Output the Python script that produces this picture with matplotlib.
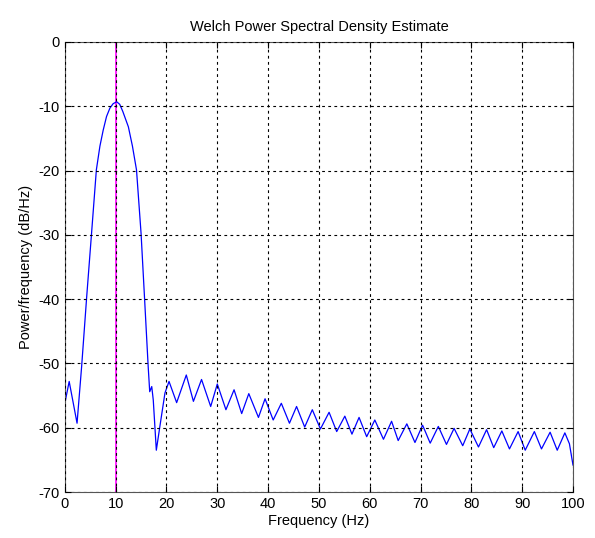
import matplotlib.pyplot as plt

plt.rcParams['font.family'] = ['Liberation Sans', 'DejaVu Sans']
plt.rcParams['axes.unicode_minus'] = False

# PSD curve (Hz, dB/Hz)
freq = [0, 0.85, 2.4, 3.3, 4.3, 5.25, 6.2, 6.9, 7.55, 8.2, 8.86, 9.5, 10.2, 10.8, 11.4, 12.5,
        13.3, 14.1, 15.0, 15.7, 16.4, 16.7, 17.1, 17.4, 18.0, 18.7, 19.7,
        20.5, 22.0, 23.9, 25.3, 26.9, 28.7, 30.0, 31.7, 33.3, 34.8,
        36.2, 38.1, 39.4, 41.0, 42.6, 44.2, 45.6, 47.2, 48.7, 50.3,
        52.0, 53.5, 55.1, 56.5, 57.9, 59.4, 61.0, 62.7, 64.3, 65.6,
        67.3, 68.9, 70.4, 71.9, 73.5, 75.1, 76.6, 78.3, 79.7, 81.4,
        83.0, 84.4, 86.0, 87.5, 89.2, 90.6, 92.4, 93.8, 95.5, 96.9,
        98.4, 99.3, 100]
psd_db = [-56.2, -52.8, -59.3, -50.5, -39.6, -29.8, -19.9, -16.2, -13.7, -11.6, -10.3, -9.6, -9.3, -9.7, -10.8, -13.2,
          -16.2, -19.9, -29.8, -40.1, -50.5, -54.4, -53.6, -55.7, -63.5, -59.8, -54.6,
          -52.8, -56.1, -51.8, -55.9, -52.5, -56.7, -53.2, -57.2, -54.1, -57.8,
          -54.7, -58.4, -55.5, -58.8, -56.2, -59.3, -56.7, -59.9, -57.2, -60.2,
          -57.6, -60.6, -58.2, -61.0, -58.4, -61.4, -58.8, -61.8, -59.0, -62.0,
          -59.4, -62.3, -59.6, -62.4, -59.8, -62.6, -60.1, -62.8, -60.2, -63.0,
          -60.3, -63.1, -60.5, -63.3, -60.6, -63.5, -60.6, -63.3, -60.7, -63.5,
          -60.8, -62.5, -65.8]
marker_freq = 10

fig = plt.figure(figsize=(5.95, 5.38), dpi=100)
ax = fig.add_axes([0.109, 0.0855, 0.854, 0.8365])

ax.plot(freq, psd_db, color='#0000ff', lw=0.9, zorder=2)
ax.axvline(marker_freq, color='#ff00ff', lw=1.2, zorder=1)

ax.set_xlim(0, 100)
ax.set_ylim(-70, 0)
ax.set_xticks(range(0, 101, 10))
ax.set_yticks(range(-70, 1, 10))
ax.set_axisbelow(False)
ax.grid(True, color='black', linestyle=(0, (2.5, 3)), lw=0.8, zorder=3)
ax.tick_params(direction='in', top=True, right=True, labelsize=10.5, length=4)
for s in ax.spines.values():
    s.set_color('#555555')

ax.set_title('Welch Power Spectral Density Estimate', fontsize=10.5, pad=8)
ax.set_xlabel('Frequency (Hz)', fontsize=10.5, labelpad=2)
ax.set_ylabel('Power/frequency (dB/Hz)', fontsize=10.5, labelpad=4)

fig.savefig('out.png', dpi=100)
